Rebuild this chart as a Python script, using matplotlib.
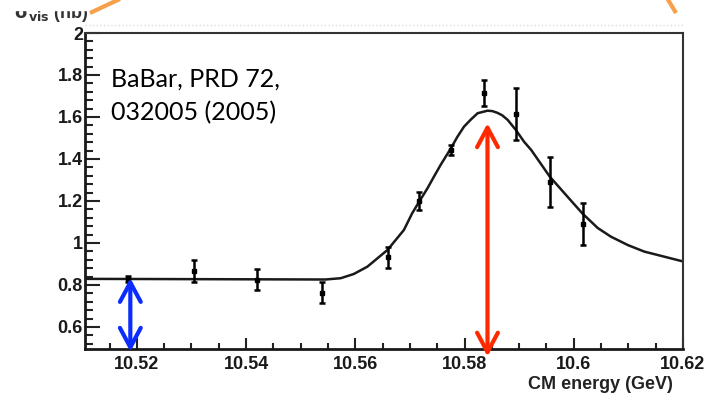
import numpy as np
import matplotlib.pyplot as plt
from matplotlib.ticker import MultipleLocator, FuncFormatter
from matplotlib.lines import Line2D
from matplotlib.patches import Rectangle

# Measured visible cross section vs CM energy
energy = [10.5184, 10.5304, 10.5420, 10.5539, 10.5659, 10.5717,
          10.5776, 10.5836, 10.5894, 10.5956, 10.6016]
sigma = [0.830, 0.867, 0.825, 0.764, 0.931, 1.201,
         1.443, 1.713, 1.614, 1.291, 1.090]
sigma_err = [0.015, 0.054, 0.049, 0.051, 0.050, 0.044,
             0.024, 0.063, 0.124, 0.118, 0.102]

# Fitted line shape
curve_x = [10.5105, 10.5545, 10.5573, 10.5597, 10.5622, 10.5659, 10.5689,
           10.5704, 10.5717, 10.5732, 10.5744, 10.5756, 10.5775, 10.5787,
           10.5799, 10.5812, 10.5824, 10.5842, 10.5851, 10.5860, 10.5869,
           10.5879, 10.5894, 10.5909, 10.5922, 10.5940, 10.5956, 10.5989,
           10.6016, 10.6044, 10.6068, 10.6099, 10.6129, 10.6197]
curve_y = [0.829, 0.826, 0.832, 0.852, 0.887, 0.967, 1.062,
           1.141, 1.197, 1.260, 1.316, 1.371, 1.451, 1.506,
           1.554, 1.589, 1.618, 1.630, 1.628, 1.620, 1.608,
           1.586, 1.538, 1.482, 1.443, 1.376, 1.316, 1.219,
           1.140, 1.071, 1.030, 0.990, 0.959, 0.914]

# Continuum level and peak markers
cont_x, cont_top, cont_bot = 10.5188, 0.833, 0.482
peak_x, peak_top, peak_bot = 10.5842, 1.57, 0.459

W, H = 719, 394
fig = plt.figure(figsize=(W / 100, H / 100), dpi=100)
ax = fig.add_axes([85 / W, 1 - 349 / H, 598 / W, 316 / H])

ax.plot(curve_x, curve_y, color='#1a1a1a', lw=1.8, zorder=2)
ax.errorbar(energy, sigma, yerr=sigma_err, fmt='s', color='black',
            ms=3, elinewidth=1.8, capsize=2.5, capthick=1.8, zorder=3)

ax.set_xlim(10.5105, 10.62)
ax.set_ylim(0.495, 2.0)

fmt = FuncFormatter(lambda v, p: '%g' % round(v, 4))
ax.xaxis.set_major_locator(MultipleLocator(0.02))
ax.xaxis.set_minor_locator(MultipleLocator(0.005))
ax.yaxis.set_major_locator(MultipleLocator(0.2))
ax.yaxis.set_minor_locator(MultipleLocator(0.04))
ax.xaxis.set_major_formatter(fmt)
ax.yaxis.set_major_formatter(fmt)

ax.tick_params(axis='both', which='both', direction='in', width=1.5,
               color='#222222', top=False, right=False)
ax.tick_params(axis='y', which='major', length=10.5, pad=1.5)
ax.tick_params(axis='y', which='minor', length=5.5)
ax.tick_params(axis='x', which='major', length=8, pad=5)
ax.tick_params(axis='x', which='minor', length=4.3)
for lab in ax.get_xticklabels() + ax.get_yticklabels():
    lab.set_family('Liberation Sans')
    lab.set_fontweight('bold')
    lab.set_fontsize(13)
    lab.set_color('#1a1a1a')

for side in ['left', 'bottom']:
    ax.spines[side].set_linewidth(2.0)
    ax.spines[side].set_color('#1a1a1a')
for side in ['top', 'right']:
    ax.spines[side].set_linewidth(1.5)
    ax.spines[side].set_color('#333333')

ax.text(673 / W, 1 - 389 / H, 'CM energy (GeV)', transform=fig.transFigure,
        ha='right', va='baseline', fontsize=13, fontweight='bold',
        family='Liberation Sans', color='#222222')

# reference note, one line at a time
ax.text(111 / W, 1 - 86.7 / H, 'BaBar, PRD 72,', transform=fig.transFigure,
        ha='left', va='baseline', fontsize=18, family='Lato')
ax.text(111 / W, 1 - 120 / H, '032005 (2005)', transform=fig.transFigure,
        ha='left', va='baseline', fontsize=18, family='Lato')

arrow_style = '<->,head_length=1.4,head_width=0.75'
ax.annotate('', xy=(cont_x, cont_bot), xytext=(cont_x, cont_top),
            arrowprops=dict(arrowstyle=arrow_style, lw=3, color='#0a2cff',
                            shrinkA=0, shrinkB=0, clip_on=False),
            annotation_clip=False, zorder=5)
ax.annotate('', xy=(peak_x, peak_bot), xytext=(peak_x, peak_top),
            arrowprops=dict(arrowstyle=arrow_style, lw=3, color='#ff2a00',
                            shrinkA=0, shrinkB=0, clip_on=False),
            annotation_clip=False, zorder=5)

# y axis title, partly hidden under the top edge
fig.text(14 / W, 1 - 18 / H, r'$\mathbf{\sigma_{vis}}$ (nb)', fontsize=13,
         fontweight='bold', family='Liberation Sans', color='#333333',
         zorder=4)
fig.add_artist(Rectangle((0, 1 - 10 / H), 0.2, 10 / H, color='white',
                         transform=fig.transFigure, zorder=6))

# faint dotted guide above the frame
fig.add_artist(Line2D([85 / W, 683 / W], [1 - 25 / H, 1 - 25 / H],
                      transform=fig.transFigure, color='#dddddd', lw=1,
                      ls=':', zorder=1))

# orange callout lines coming in from above
fig.add_artist(Line2D([90 / W, 122 / W], [1 - 13 / H, 1 + 2 / H],
                      transform=fig.transFigure, color='#f7a04b', lw=3,
                      solid_capstyle='butt', zorder=7))
fig.add_artist(Line2D([667 / W, 676 / W], [1 + 2 / H, 1 - 13 / H],
                      transform=fig.transFigure, color='#f7a04b', lw=3,
                      solid_capstyle='butt', zorder=7))

fig.savefig('out.png', dpi=100)
